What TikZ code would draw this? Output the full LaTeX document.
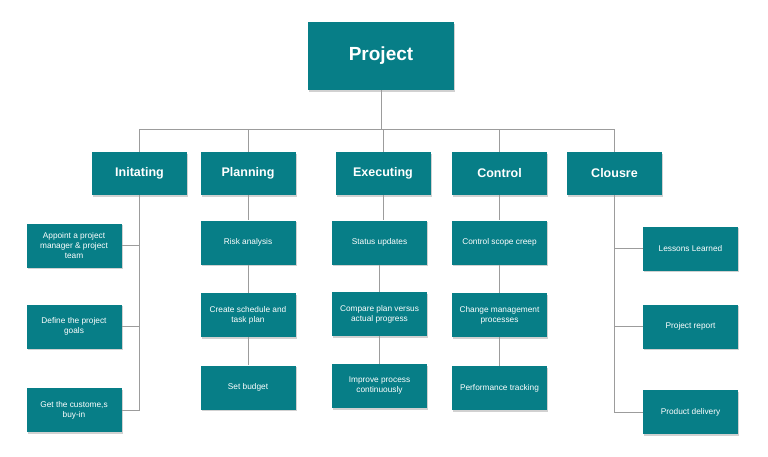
\documentclass[tikz,border=0pt]{standalone}
\usepackage{fontspec}
\setmainfont{Liberation Sans}
\usepackage{tikz}
\usetikzlibrary{positioning, shadows}
\usepackage{xcolor}
\definecolor{wbsTeal}{HTML}{077E87}
\definecolor{linkGray}{HTML}{9C9C9C}

\begin{document}
\begin{tikzpicture}[
      x=1pt, y=-1pt,
      every node/.style={text=white, inner sep=1pt, align=center},
      box/.style={fill=wbsTeal, draw=none,
                  drop shadow={shadow xshift=1.2pt, shadow yshift=-1.6pt,
                               opacity=0.18, fill=black}},
      root/.style={box, minimum width=146pt, minimum height=68pt,
                   font=\fontsize{19}{22}\selectfont\bfseries},
      phase/.style={box, minimum width=95pt, minimum height=43pt,
                    font=\fontsize{12.5}{15}\selectfont\bfseries},
      task/.style={box, minimum width=95pt, minimum height=44pt,
                   font=\fontsize{8.3}{10}\selectfont},
      link/.style={draw=linkGray, line width=0.9pt},
    ]
      \useasboundingbox (0,0) rectangle (768,457);

      % top
      \node[root] (proj) at (381,56) {Project};
      \coordinate (bus) at (381,129);

      % phases
      \node[phase] (ini)  at (139.5,173.5) {Initating};
      \node[phase] (plan) at (248,173.5)   {Planning};
      \node[phase] (exec) at (383,173.5)   {Executing};
      \node[phase] (ctrl) at (499.5,173.5) {Control};
      \node[phase] (clos) at (614.5,173.5) {Clousre};

      % initating
      \node[task] (ini1) at (74,245.5) {Appoint a project\\manager \& project\\team};
      \node[task] (ini2) at (74,326.5) {Define the project\\goals};
      \node[task] (ini3) at (74,410)   {Get the custome,s\\buy-in};

      % planning
      \node[task] (plan1) at (248,242.5) {Risk analysis};
      \node[task] (plan2) at (248,315)   {Create schedule and\\task plan};
      \node[task] (plan3) at (248,387.5) {Set budget};

      % executing
      \node[task] (exec1) at (379.5,242.5) {Status updates};
      \node[task] (exec2) at (379.5,314)   {Compare plan versus\\actual progress};
      \node[task] (exec3) at (379.5,386)   {Improve process\\continuously};

      % control
      \node[task] (ctrl1) at (499.5,242.5) {Control scope creep};
      \node[task] (ctrl2) at (499.5,315)   {Change management\\processes};
      \node[task] (ctrl3) at (499.5,388)   {Performance tracking};

      % clousre
      \node[task] (clos1) at (690.5,248.5) {Lessons Learned};
      \node[task] (clos2) at (690.5,326.5) {Project report};
      \node[task] (clos3) at (690.5,412)   {Product delivery};

      % connectors
      \draw[link] (proj.south) -- (bus);
      \draw[link] (ini.north |- bus) -- (clos.north |- bus);
      \foreach \p in {ini, plan, exec, ctrl, clos}
        \draw[link] (\p.north) -- (\p.north |- bus);

      \draw[link] (ini.south) |- (ini3.east);
      \foreach \c in {ini1, ini2}
        \draw[link] (\c.east) -- (\c.east -| ini.south);

      \draw[link] (clos.south) |- (clos3.west);
      \foreach \c in {clos1, clos2}
        \draw[link] (\c.west) -- (\c.west -| clos.south);

      \foreach \p in {plan, exec, ctrl} {
        \draw[link] (\p.south) -- (\p.south |- \p1.north);
        \draw[link] (\p1.south) -- (\p2.north);
        \draw[link] (\p2.south) -- (\p3.north);
      }
    \end{tikzpicture}
\end{document}
